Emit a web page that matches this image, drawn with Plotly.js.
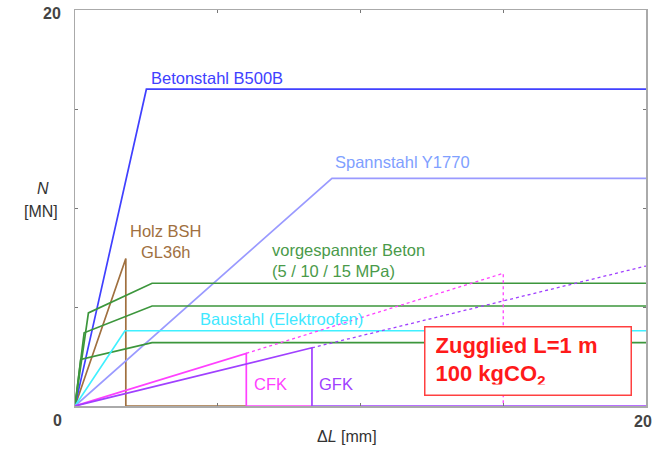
<!DOCTYPE html>
<html>
<head>
<meta charset="utf-8">
<script src="https://cdn.plot.ly/plotly-3.0.1.min.js"></script>
<style>html,body{margin:0;padding:0;background:#fff;}#chart{width:652px;height:449px;}</style>
</head>
<body>
<div id="chart"></div>
<script>
// ---- data (ΔL in mm, N in MN) ----
const betonX = [0, 2.5, 20];
const betonY = [0, 16, 16];
const spannX = [0, 9, 20];
const spannY = [0, 11.5, 11.5];
const holzX = [0, 1.78, 1.78, 6];
const holzY = [0, 7.45, 0, 0];
const bausX = [0, 1.75, 20];
const bausY = [0, 3.8, 3.8];
const vb5X = [0, 0.2, 2.7, 20];
const vb5Y = [0, 2.35, 3.2, 3.2];
const vb10X = [0, 0.32, 2.7, 20];
const vb10Y = [0, 3.7, 5.05, 5.05];
const vb15X = [0, 0.47, 2.7, 20];
const vb15Y = [0, 4.7, 6.2, 6.2];
const cfkX = [0, 6, 6, 8.3];
const cfkY = [0, 2.66, 0, 0];
const cfkDotX = [6, 15, 15];
const cfkDotY = [2.66, 6.7, 0];
const gfkX = [0, 8.3, 8.3, 20];
const gfkY = [0, 2.94, 0, 0];
const gfkDotX = [8.3, 20];
const gfkDotY = [2.94, 7.07];

const tickVals = [0, 5, 10, 15, 20];
const axisMin = 0, axisMax = 20;
const tickLabelX = ['0', '20'];
const tickLabelY = ['20'];

// series labels
const labels = [
  {text: 'Betonstahl B500B', x: 2.59, y: 16.57, color: '#4040ff', anchor: 'left'},
  {text: 'Spannstahl Y1770', x: 9.04, y: 12.32, color: '#80a0ff', anchor: 'left'},
  {text: 'Holz BSH<br>GL36h', x: 3.19, y: 8.33, color: '#a0703f', anchor: 'center'},
  {text: 'vorgespannter Beton<br>(5 / 10 / 15 MPa)', x: 6.83, y: 7.37, color: '#4a9a4a', anchor: 'left'},
  {text: 'Baustahl (Elektroofen)', x: 4.30, y: 4.38, color: '#40e8ff', anchor: 'left'},
  {text: 'CFK', x: 6.85, y: 1.10, color: '#ff40ff', anchor: 'center'},
  {text: 'GFK', x: 9.14, y: 1.11, color: '#a040ff', anchor: 'center'}
];

const FONT = 'Liberation Sans, Arial, sans-serif';
function line(x, y, color, dash, width) {
  return {x: x, y: y, type: 'scatter', mode: 'lines', hoverinfo: 'skip',
    line: {color: color, width: width || 1.7, dash: dash || 'solid'}};
}

const traces = [
  line(holzX, holzY, '#a0703f'),
  line(spannX, spannY, '#9a9aff'),
  line(betonX, betonY, '#4040ff'),
  line(vb5X, vb5Y, '#3c963c'),
  line(vb10X, vb10Y, '#3c963c'),
  line(vb15X, vb15Y, '#3c963c'),
  line(bausX, bausY, '#40f0ff'),
  line(cfkDotX, cfkDotY, '#ff40ff', 'dot', 1.3),
  line(gfkDotX, gfkDotY, '#a040ff', 'dot', 1.3),
  line(cfkX, cfkY, '#ff40ff'),
  line(gfkX, gfkY, '#a040ff')
];

const annotations = labels.map(l => ({
  text: l.text, x: l.x, y: l.y, xref: 'x', yref: 'y', showarrow: false,
  xanchor: l.anchor, yanchor: 'middle', align: l.anchor === 'center' ? 'center' : 'left',
  font: {family: FONT, size: 16.5, color: l.color}
}));

// tick labels & axis titles
annotations.push(
  {text: tickLabelY[0], xref: 'paper', yref: 'paper', x: -0.0403, y: 0.99, showarrow: false,
   xanchor: 'center', yanchor: 'middle', font: {family: FONT, size: 16, color: '#444', weight: 'bold'}},
  {text: tickLabelX[0], xref: 'paper', yref: 'paper', x: -0.0315, y: -0.0354, showarrow: false,
   xanchor: 'center', yanchor: 'middle', font: {family: FONT, size: 16, color: '#444', weight: 'bold'}},
  {text: tickLabelX[1], xref: 'paper', yref: 'paper', x: 0.9947, y: -0.0379, showarrow: false,
   xanchor: 'center', yanchor: 'middle', font: {family: FONT, size: 16, color: '#444', weight: 'bold'}},
  {text: '<i>N</i>', xref: 'paper', yref: 'paper', x: -0.056, y: 0.548, showarrow: false,
   xanchor: 'center', yanchor: 'middle', font: {family: FONT, size: 16, color: '#333'}},
  {text: '[MN]', xref: 'paper', yref: 'paper', x: -0.0595, y: 0.49, showarrow: false,
   xanchor: 'center', yanchor: 'middle', font: {family: FONT, size: 16, color: '#333'}},
  {text: 'Δ<i>L</i> [mm]', xref: 'paper', yref: 'paper', x: 0.476, y: -0.078, showarrow: false,
   xanchor: 'center', yanchor: 'middle', font: {family: FONT, size: 16, color: '#333'}},
  {text: 'Zugglied L=1 m<br>100 kgCO<sub>2</sub>', x: 15.88, y: 2.29, xref: 'x', yref: 'y',
   showarrow: false, xanchor: 'center', yanchor: 'middle', align: 'left',
   width: 185, height: 47, borderpad: 10, borderwidth: 1.5, bordercolor: '#ff4040', bgcolor: '#ffffff',
   font: {family: FONT, size: 22, color: '#ff1a1a', weight: 'bold'}}
);

const axisCommon = {
  range: [axisMin, axisMax], tickvals: tickVals, showticklabels: false,
  ticks: 'inside', ticklen: 3, tickwidth: 1, tickcolor: '#777',
  showline: true, linecolor: '#aaaaaa', linewidth: 1.5, mirror: 'ticks',
  showgrid: false, zeroline: false, fixedrange: true
};

const layout = {
  width: 652, height: 449,
  margin: {l: 75, r: 6, t: 10, b: 43, pad: 0},
  paper_bgcolor: '#ffffff', plot_bgcolor: '#ffffff',
  showlegend: false,
  xaxis: Object.assign({}, axisCommon),
  yaxis: Object.assign({}, axisCommon),
  annotations: annotations,
  font: {family: FONT}
};

Plotly.newPlot('chart', traces, layout, {staticPlot: true, displayModeBar: false});
</script>
</body>
</html>
